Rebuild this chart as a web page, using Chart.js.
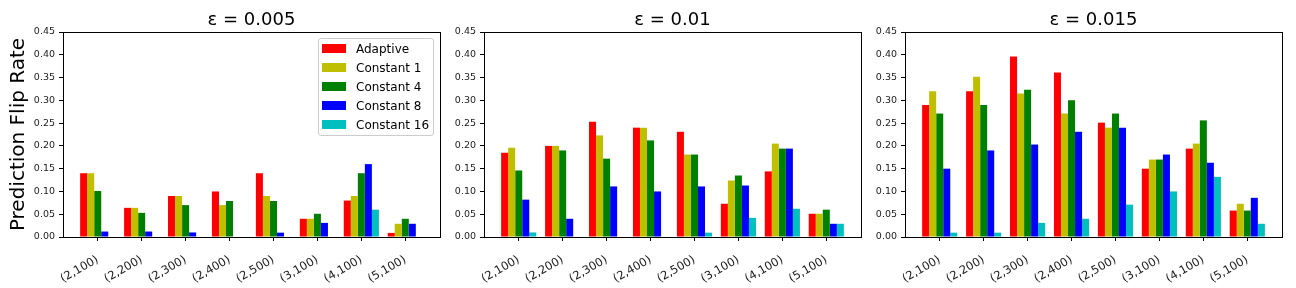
<!DOCTYPE html>
<html><head><meta charset="utf-8">
<script src="https://cdn.jsdelivr.net/npm/chart.js@4/dist/chart.umd.min.js"></script>
<style>
html,body{margin:0;padding:0;background:#fff;width:1296px;height:288px;overflow:hidden;font-family:'DejaVu Sans';}
.c{position:absolute;top:0;height:288px;}
#legend{position:absolute;left:318px;top:38px;width:116px;height:98px;box-sizing:border-box;border:1px solid #cccccc;border-radius:3px;background:rgba(255,255,255,0.8);font:12px 'DejaVu Sans';color:#000;z-index:5}
.li{position:absolute;left:3px;height:19px;line-height:19px;white-space:nowrap}
.sw{display:inline-block;width:24px;height:9px;vertical-align:middle;margin-right:10px;position:relative;top:-1px}
</style></head>
<body>
<div class="c" style="left:0;width:445px"><canvas id="c1" width="445" height="288"></canvas></div>
<div class="c" style="left:445px;width:421px"><canvas id="c2" width="421" height="288"></canvas></div>
<div class="c" style="left:866px;width:430px"><canvas id="c3" width="430" height="288"></canvas></div>
<div id="legend"></div>
<script>
const categories = ['(2,100)','(2,200)','(2,300)','(2,400)','(2,500)','(3,100)','(4,100)','(5,100)'];
const seriesNames = ['Adaptive','Constant 1','Constant 4','Constant 8','Constant 16'];
const seriesColors = ['#ff0000','#bfbf00','#008000','#0000ff','#00bfbf'];
const panelTitles = ['\u03b5 = 0.005','\u03b5 = 0.01','\u03b5 = 0.015'];
const yAxisTitle = 'Prediction Flip Rate';

// epsilon = 0.005
const adaptive005 = [0.14, 0.064, 0.09, 0.10, 0.14, 0.04, 0.08, 0.009];
const const1_005  = [0.14, 0.064, 0.09, 0.07, 0.09, 0.04, 0.09, 0.029];
const const4_005  = [0.101, 0.053, 0.07, 0.079, 0.079, 0.051, 0.14, 0.04];
const const8_005  = [0.012, 0.012, 0.01, 0, 0.0095, 0.031, 0.16, 0.029];
const const16_005 = [0, 0, 0, 0, 0, 0, 0.06, 0];

// epsilon = 0.01
const adaptive01 = [0.185, 0.2, 0.253, 0.24, 0.231, 0.073, 0.144, 0.051];
const const1_01  = [0.196, 0.2, 0.223, 0.24, 0.181, 0.124, 0.205, 0.051];
const const4_01  = [0.146, 0.19, 0.172, 0.212, 0.181, 0.135, 0.194, 0.06];
const const8_01  = [0.082, 0.04, 0.111, 0.1, 0.111, 0.113, 0.194, 0.029];
const const16_01 = [0.01, 0, 0, 0, 0.0095, 0.042, 0.062, 0.029];

// epsilon = 0.015
const adaptive015 = [0.29, 0.32, 0.396, 0.361, 0.251, 0.15, 0.194, 0.058];
const const1_015  = [0.32, 0.352, 0.315, 0.271, 0.24, 0.17, 0.205, 0.073];
const const4_015  = [0.271, 0.29, 0.323, 0.30, 0.271, 0.17, 0.256, 0.058];
const const8_015  = [0.15, 0.19, 0.203, 0.231, 0.24, 0.181, 0.163, 0.086];
const const16_015 = [0.0095, 0.0095, 0.031, 0.04, 0.071, 0.1, 0.132, 0.029];

const yMin = 0, yMax = 0.45, yStep = 0.05;

const FONT = "'DejaVu Sans'";
const framePlugin = {
  id: 'frame',
  afterDatasetsDraw(chart) {
    const {ctx, chartArea: a} = chart;
    ctx.save();
    ctx.strokeStyle = '#000';
    ctx.lineWidth = 1;
    ctx.strokeRect(a.left + 0.5, a.top + 0.5, a.right - a.left, a.bottom - a.top);
    ctx.restore();
  }
};

function makeChart(id, title, series, yWidth, padRight, showYTitle) {
  const datasets = series.map((vals, k) => ({
    label: seriesNames[k],
    data: vals.map((v, i) => ({x: i, y: v})),
    backgroundColor: seriesColors[k],
    borderWidth: 0,
    barPercentage: 1,
    categoryPercentage: 0.8
  }));
  return new Chart(document.getElementById(id), {
    type: 'bar',
    data: {datasets},
    plugins: [framePlugin],
    options: {
      responsive: false,
      animation: false,
      devicePixelRatio: 1,
      layout: {padding: {left: 0, right: padRight, top: 0, bottom: 0}},
      plugins: {
        legend: {display: false},
        tooltip: {enabled: false},
        title: {
          display: true, text: title, fullSize: false,
          font: {family: FONT, size: 18, weight: 'normal'}, color: '#000',
          padding: {top: 10, bottom: 0.4}
        }
      },
      scales: {
        x: {
          type: 'linear', min: -0.79, max: 7.79, offset: false,
          afterBuildTicks: s => { s.ticks = categories.map((_, i) => ({value: i})); },
          afterFit: s => { s.height = 51; },
          border: {display: false},
          grid: {offset: false, drawOnChartArea: false, drawTicks: true, tickLength: 4, color: '#000', tickWidth: 1},
          ticks: {
            callback: v => categories[v] ?? '',
            minRotation: 30, maxRotation: 30, autoSkip: false,
            font: {family: FONT, size: 11.5}, color: '#1a1a1a', padding: 12
          }
        },
        y: {
          min: yMin, max: yMax,
          afterFit: s => { s.width = yWidth; },
          border: {display: false},
          grid: {drawOnChartArea: false, drawTicks: true, tickLength: 4, color: '#000', tickWidth: 1},
          ticks: {
            stepSize: yStep, autoSkip: false,
            callback: v => Number(v).toFixed(2),
            font: {family: FONT, size: 9.5}, color: '#1a1a1a', padding: 4
          },
          title: {
            display: showYTitle, text: yAxisTitle,
            font: {family: FONT, size: 20, weight: 'normal'}, color: '#000',
            padding: {top: 7, bottom: 0}
          }
        }
      }
    }
  });
}

makeChart('c1', panelTitles[0], [adaptive005, const1_005, const4_005, const8_005, const16_005], 63, 5, true);
makeChart('c2', panelTitles[1], [adaptive01, const1_01, const4_01, const8_01, const16_01], 39, 5, false);
makeChart('c3', panelTitles[2], [adaptive015, const1_015, const4_015, const8_015, const16_015], 39, 14, false);

const leg = document.getElementById('legend');
seriesNames.forEach((name, k) => {
  const row = document.createElement('div');
  row.className = 'li';
  row.style.top = (0.5 + 19 * k) + 'px';
  const sw = document.createElement('span');
  sw.className = 'sw';
  sw.style.background = seriesColors[k];
  row.appendChild(sw);
  row.appendChild(document.createTextNode(name));
  leg.appendChild(row);
});
</script>
</body></html>
